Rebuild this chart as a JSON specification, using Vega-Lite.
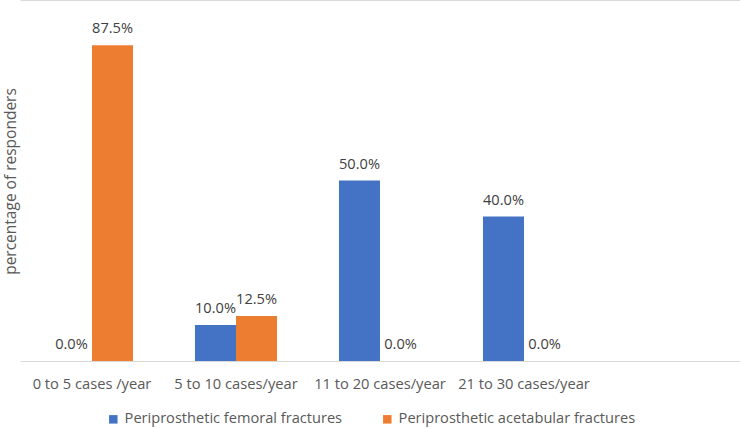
{
  "$schema": "https://vega.github.io/schema/vega-lite/v6.json",
  "autosize": "none",
  "width": 720,
  "height": 361,
  "padding": {"left": 20, "top": 0, "right": 0, "bottom": 67},
  "background": "white",
  "config": {
    "font": "Open Sans",
    "view": {"stroke": null}
  },
  "data": {
    "values": [
      {"category": "0 to 5 cases /year", "series": "Periprosthetic femoral fractures", "value": 0.0},
      {"category": "0 to 5 cases /year", "series": "Periprosthetic acetabular fractures", "value": 0.875},
      {"category": "5 to 10 cases/year", "series": "Periprosthetic femoral fractures", "value": 0.10},
      {"category": "5 to 10 cases/year", "series": "Periprosthetic acetabular fractures", "value": 0.125},
      {"category": "11 to 20 cases/year", "series": "Periprosthetic femoral fractures", "value": 0.50},
      {"category": "11 to 20 cases/year", "series": "Periprosthetic acetabular fractures", "value": 0.0},
      {"category": "21 to 30 cases/year", "series": "Periprosthetic femoral fractures", "value": 0.40},
      {"category": "21 to 30 cases/year", "series": "Periprosthetic acetabular fractures", "value": 0.0}
    ]
  },
  "encoding": {
    "x": {
      "field": "category",
      "type": "nominal",
      "sort": null,
      "scale": {
        "domain": ["0 to 5 cases /year", "5 to 10 cases/year", "11 to 20 cases/year", "21 to 30 cases/year", " "],
        "paddingInner": 0.43,
        "paddingOuter": 0.215
      },
      "axis": {
        "title": null,
        "labelAngle": 0,
        "labelFontSize": 14.7,
        "labelColor": "#595959",
        "labelPadding": 15,
        "ticks": false,
        "domainColor": "#D9D9D9",
        "domainWidth": 1.2
      }
    },
    "xOffset": {
      "field": "series",
      "type": "nominal",
      "sort": ["Periprosthetic femoral fractures", "Periprosthetic acetabular fractures"],
      "scale": {"paddingInner": 0, "paddingOuter": 0}
    },
    "y": {
      "field": "value",
      "type": "quantitative",
      "scale": {"domain": [0, 1], "nice": false},
      "axis": {
        "title": "percentage of responders",
        "titleFontSize": 15.5,
        "titleFontWeight": "normal",
        "titleColor": "#595959",
        "titleX": -10,
        "titleY": 181,
        "titleBaseline": "middle",
        "values": [1],
        "labels": false,
        "ticks": false,
        "domain": false,
        "grid": true,
        "gridColor": "#D9D9D9",
        "gridWidth": 1.2
      }
    }
  },
  "layer": [
    {
      "mark": {"type": "bar"},
      "encoding": {
        "color": {
          "field": "series",
          "type": "nominal",
          "sort": ["Periprosthetic femoral fractures", "Periprosthetic acetabular fractures"],
          "scale": {"range": ["#4472C4", "#ED7D31"]},
          "legend": {
            "title": null,
            "orient": "none",
            "legendX": 86,
            "legendY": 412,
            "direction": "horizontal",
            "symbolType": "square",
            "symbolSize": 72,
            "symbolStrokeWidth": 0,
            "labelFontSize": 14.6,
            "labelColor": "#595959",
            "labelOffset": 4,
            "columnPadding": 37,
            "labelLimit": 400
          }
        }
      }
    },
    {
      "mark": {"type": "text", "baseline": "alphabetic", "dy": -12, "fontSize": 14.6, "color": "#404040"},
      "encoding": {
        "text": {"field": "value", "type": "quantitative", "format": ".1%"}
      }
    }
  ]
}
